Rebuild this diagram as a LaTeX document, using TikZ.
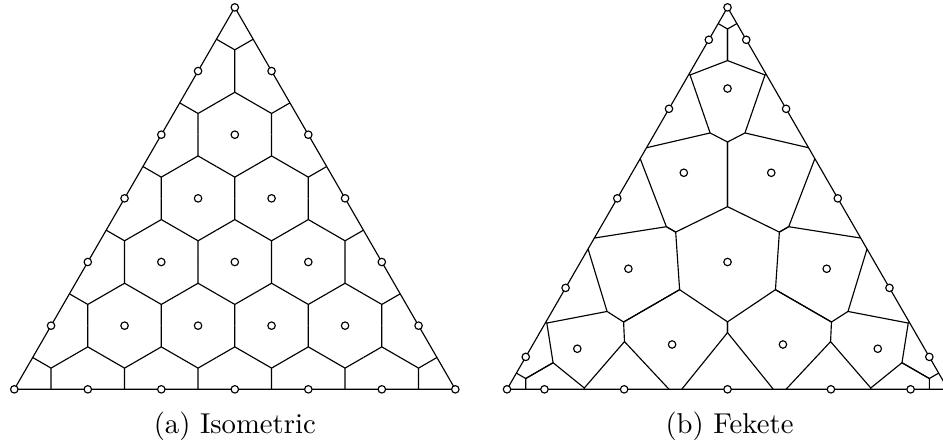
\documentclass[tikz,border=0pt]{standalone}
\usepackage{tikz}

\begin{document}
\begin{tikzpicture}[x=0.9cm,y=0.9cm,
  cell/.style={draw=black,line width=0.4pt},
  nodept/.style={circle,draw=black,fill=white,line width=0.4pt,inner sep=0pt,minimum size=2.6pt},
  subcap/.style={anchor=base,font=\normalsize}
]
\useasboundingbox (-0.1946,-0.717) rectangle (12.635,5.2966);

% (a) isometric lattice, oblique axes
\begin{scope}[x={(0.9cm,0cm)},y={(0.45cm,0.779423cm)}]
\foreach \j in {0,...,5}{
  \pgfmathtruncatemacro\imax{5-\j}
  \foreach \i in {0,...,\imax}
    \draw[cell] (\i+1/2,\j) -- (\i+1/3,\j+1/3) -- (\i,\j+1/2)
                (\i+1/3,\j+1/3) -- (\i+1/2,\j+1/2);
}
\foreach \j in {0,...,4}{
  \pgfmathtruncatemacro\imax{4-\j}
  \foreach \i in {0,...,\imax}
    \draw[cell] (\i+1/2,\j+1/2) -- (\i+2/3,\j+2/3) -- (\i+1,\j+1/2)
                (\i+2/3,\j+2/3) -- (\i+1/2,\j+1);
}
\draw[cell] (0,0) -- (6,0) -- (0,6) -- cycle;
\foreach \j in {0,...,6}{
  \pgfmathtruncatemacro\imax{6-\j}
  \foreach \i in {0,...,\imax}
    \node[nodept] (iso-\i-\j) at (\i,\j) {};
}
\end{scope}

% (b) fekete, drawn round the centroid
\begin{scope}[shift={(9.7034,1.7321)}]
\draw[cell] (0,3.4641) -- (-3,-1.7321) -- (3,-1.7321) -- cycle;
\foreach \r in {0,120,240}{
  \foreach \s in {1,-1}{
    \begin{scope}[rotate=\r,xscale=\s]
      \coordinate (m01) at (0.1273,3.2436);
      \coordinate (m12) at (0.5257,2.5536);
      \coordinate (q1) at (1.1024,1.5547);
      \coordinate (q2) at (1.1882,1.4061);
      \coordinate (v1) at (0,3.1701);
      \coordinate (v2) at (0,2.7404);
      \coordinate (w1) at (0.5100,2.5445);
      \coordinate (w2) at (0.2369,1.7556);
      \coordinate (v4) at (0,1.6327);
      \coordinate (v5) at (0,0.7528);
      \coordinate (h1) at (0.7053,0.4072);
      \coordinate (w3) at (0.8320,0.4804);
      \draw[cell] (m01) -- (v1) -- (v2) -- (w1) -- (m12)
                  (w1) -- (w2) -- (v4) -- (v5) -- (h1) -- (w3) -- (q2)
                  (w2) -- (q1);
    \end{scope}
  }
}
\foreach \r in {0,120,240}{
  \begin{scope}[rotate=\r]
    \foreach \px/\py [count=\k] in {0/3.4641, 0.2547/3.0230, -0.2547/3.0230,
        0.7967/2.0841, -0.7967/2.0841, 1.5/0.8660,
        0/2.36, 0.5948/1.2141, -0.5948/1.2141}
      \node[nodept] (fek-\r-\k) at (\px,\py) {};
  \end{scope}
}
\node[nodept] (fek-0) at (0,0) {};
\end{scope}

\node[subcap] (capa) at (3,-0.6) {(a) Isometric};
\node[subcap] (capb) at (9.73,-0.6) {(b) Fekete};
\end{tikzpicture}
\end{document}
